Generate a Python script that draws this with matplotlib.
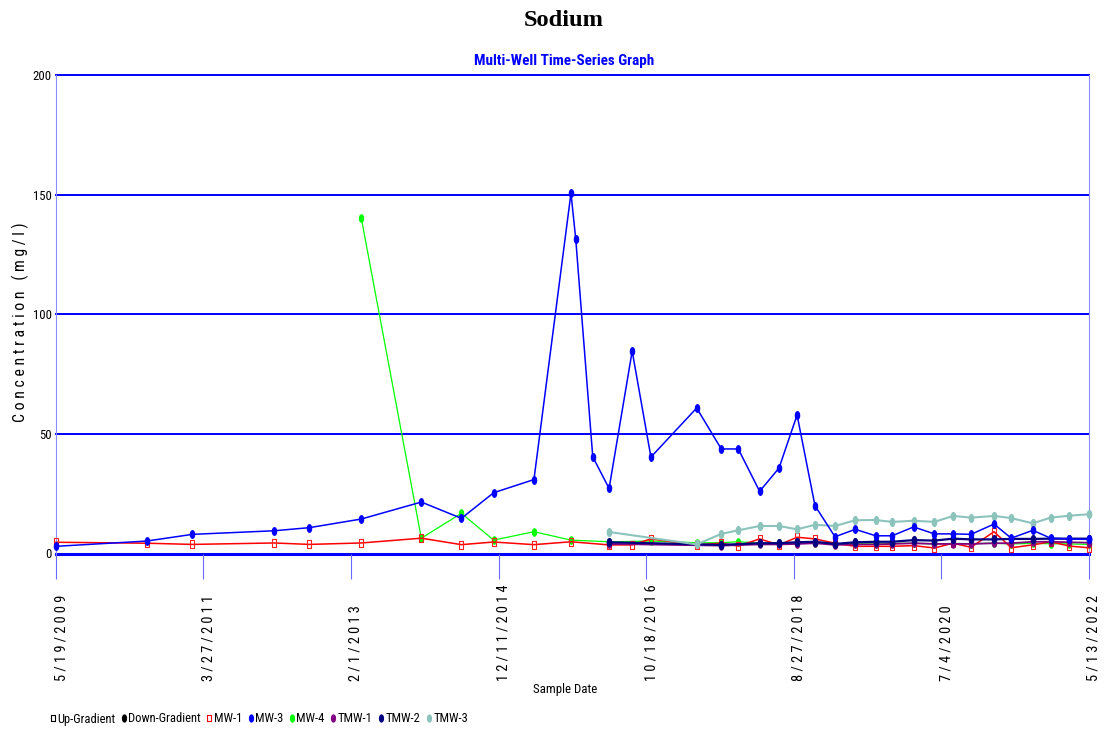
import os
import matplotlib
matplotlib.use("Agg")
import numpy as np
import matplotlib.pyplot as plt
import matplotlib.dates as mdates
from matplotlib import font_manager as fm
from matplotlib.path import Path
from matplotlib.lines import Line2D
from matplotlib.transforms import blended_transform_factory, ScaledTranslation

# ---- data -------------------------------------------------------------
tick_labels = ["5/19/2009", "3/27/2011", "2/1/2013", "12/11/2014",
               "10/18/2016", "8/27/2018", "7/4/2020", "5/13/2022"]

mw3_dates = ["2009-05-19", "2010-07-09", "2011-02-04", "2012-02-14", "2012-07-25",
             "2013-03-20", "2013-12-21", "2014-06-23", "2014-11-18", "2015-05-22",
             "2015-11-08", "2015-11-30", "2016-02-16", "2016-05-01", "2016-08-15",
             "2016-11-09", "2017-06-07", "2017-09-28", "2017-12-15", "2018-03-23",
             "2018-06-20", "2018-09-11", "2018-12-02", "2019-03-04", "2019-06-05",
             "2019-09-07", "2019-11-21", "2020-02-28", "2020-06-02", "2020-08-27",
             "2020-11-17", "2021-03-03", "2021-05-21", "2021-08-28", "2021-11-18",
             "2022-02-12", "2022-05-13"]
mw3_values = [3.0, 5.2, 8.0, 9.5, 10.8, 14.4, 21.5, 14.7, 25.4, 30.9,
              150.6, 131.3, 40.4, 27.2, 84.6, 40.3, 60.8, 43.7, 43.7, 26.0,
              35.7, 57.9, 20.0, 7.0, 10.1, 7.4, 7.4, 11.1, 8.2, 8.2,
              8.0, 12.3, 6.4, 9.7, 6.4, 6.1, 5.9]

mw1_dates = ["2009-05-19", "2010-07-09", "2011-02-04", "2012-02-14", "2012-07-25",
             "2013-03-20", "2013-12-21", "2014-06-23", "2014-11-18", "2015-05-22",
             "2015-11-08", "2016-05-01", "2016-08-15", "2016-11-09", "2017-06-07",
             "2017-09-28", "2017-12-15", "2018-03-23", "2018-06-20", "2018-09-11",
             "2018-12-02", "2019-03-04", "2019-06-05", "2019-09-07", "2019-11-21",
             "2020-02-28", "2020-06-02", "2020-08-27", "2020-11-17", "2021-03-03",
             "2021-05-21", "2021-08-28", "2021-11-18", "2022-02-12", "2022-05-13"]
mw1_values = [4.7, 4.3, 3.8, 4.4, 3.8, 4.4, 6.4, 3.7, 4.8, 3.7,
              4.9, 3.6, 3.6, 6.1, 3.6, 4.3, 3.1, 6.1, 3.6, 6.8,
              6.1, 4.3, 3.0, 3.0, 3.0, 3.3, 2.3, 4.3, 2.6, 9.1,
              2.4, 3.6, 4.9, 3.1, 2.4]

mw4_dates = ["2013-03-20", "2013-12-21", "2014-06-23", "2014-11-18", "2015-05-22",
             "2015-11-08", "2016-05-01", "2016-11-09", "2017-06-07", "2017-09-28",
             "2017-12-15", "2018-03-23", "2018-06-20", "2018-09-11", "2018-12-02",
             "2019-03-04", "2019-06-05", "2019-09-07", "2019-11-21", "2020-02-28",
             "2020-06-02", "2020-08-27", "2020-11-17", "2021-03-03", "2021-05-21",
             "2021-08-28", "2021-11-18", "2022-02-12", "2022-05-13"]
mw4_values = [140.4, 6.4, 16.8, 5.6, 9.1, 5.6, 4.9, 5.2, 4.5, 4.5,
              4.9, 4.4, 4.3, 4.6, 4.5, 4.0, 4.1, 4.0, 4.2, 4.3,
              4.0, 4.2, 4.1, 4.3, 4.0, 4.2, 4.1, 4.0, 3.8]

tmw_dates = ["2016-05-01", "2017-09-28", "2018-03-23", "2018-06-20", "2018-09-11",
             "2018-12-02", "2019-03-04", "2019-06-05", "2019-09-07", "2019-11-21",
             "2020-02-28", "2020-06-02", "2020-08-27", "2020-11-17", "2021-03-03",
             "2021-05-21", "2021-08-28", "2021-11-18", "2022-02-12", "2022-05-13"]
tmw1_values = [4.0, 3.3, 3.8, 3.8, 4.0, 4.3, 3.6, 3.8, 3.8, 4.0,
               4.3, 4.0, 4.0, 4.0, 4.3, 4.3, 4.9, 4.9, 4.7, 4.5]
tmw2_values = [4.7, 3.6, 4.3, 4.3, 4.7, 4.9, 4.0, 4.7, 4.9, 4.9,
               5.6, 5.4, 6.2, 5.9, 5.9, 6.1, 6.1, 6.2, 6.2, 6.2]

tmw3_dates = ["2016-05-01", "2017-06-07", "2017-09-28", "2017-12-15", "2018-03-23",
              "2018-06-20", "2018-09-11", "2018-12-02", "2019-03-04", "2019-06-05",
              "2019-09-07", "2019-11-21", "2020-02-28", "2020-06-02", "2020-08-27",
              "2020-11-17", "2021-03-03", "2021-05-21", "2021-08-28", "2021-11-18",
              "2022-02-12", "2022-05-13"]
tmw3_values = [9.0, 3.8, 8.2, 9.7, 11.5, 11.5, 10.1, 12.0, 11.5, 13.9,
               14.0, 13.2, 13.7, 13.2, 15.7, 15.0, 15.7, 14.8, 12.6, 15.0,
               15.8, 16.4]

y_ticks = [0, 50, 100, 150, 200]
legend_labels = ["Up-Gradient", "Down-Gradient", "MW-1", "MW-3", "MW-4",
                 "TMW-1", "TMW-2", "TMW-3"]


# ---- fonts: prefer a narrow face when one is installed -----------------
def find_face(prefixes, bold=False):
    files = sorted({f.fname for f in fm.fontManager.ttflist})
    for p in prefixes:
        for fn in files:
            b = os.path.basename(fn).lower()
            if not b.startswith(p.lower()):
                continue
            rest = b[len(p):]
            if "italic" in rest or "oblique" in rest:
                continue
            heavy = any(k in rest for k in ("semibold", "extrabold", "demibold", "black"))
            if bold:
                if "bold" in rest and not heavy:
                    return fn
            elif not any(k in rest for k in ("bold", "light", "thin", "black", "medium")):
                return fn
    return None


SANS_NARROW = ["NotoSans-ExtraCondensed", "LiberationSansNarrow", "ArialNarrow",
               "NotoSans-Condensed", "RobotoCondensed", "Roboto-Condensed",
               "OpenSans-Condensed", "OpenSansCondensed", "OpenSans_Condensed",
               "DejaVuSansCondensed"]
SERIF_NARROW = ["NotoSerif-ExtraCondensed", "NotoSerif-Condensed", "LiberationSerif-",
                "DejaVuSerifCondensed", "DejaVuSerif"]


def sans(size=10, bold=False):
    fn = find_face(SANS_NARROW, bold)
    if fn:
        return fm.FontProperties(fname=fn, size=size)
    return fm.FontProperties(family="DejaVu Sans", size=size,
                             weight="bold" if bold else "normal")


def serif(size=10):
    fn = find_face(SERIF_NARROW, True)
    if fn:
        return fm.FontProperties(fname=fn, size=size)
    return fm.FontProperties(family="serif", size=size, weight="bold")


# ---- helpers ------------------------------------------------------------
def to_num(dates):
    return mdates.date2num(np.array(dates, dtype="datetime64[D]"))


def label_to_iso(lab):
    m, d, y = lab.split("/")
    return f"{y}-{int(m):02d}-{int(d):02d}"


def spaced(s):
    return " ".join(s)


def oval(aspect=0.55):
    c = Path.unit_circle()
    return Path(c.vertices * np.array([aspect, 1.0]), c.codes)


def tall_box(aspect=0.5):
    verts = [(-aspect, -1), (aspect, -1), (aspect, 1), (-aspect, 1), (-aspect, -1)]
    codes = [Path.MOVETO, Path.LINETO, Path.LINETO, Path.LINETO, Path.CLOSEPOLY]
    return Path(verts, codes)


OVAL = oval()
BOX = tall_box()

W, H = 1112, 732


def fx(px):
    return px / W


def fy(py):
    return 1 - py / H


fig = plt.figure(figsize=(W / 100, H / 100), dpi=100)
fig.patch.set_facecolor("white")
renderer = fig.canvas.get_renderer()


def size_for(text, fp, width_px):
    """Font size (pt) at which `text` set in `fp` is `width_px` wide."""
    probe = fp.copy()
    probe.set_size(20)
    t = fig.text(0, 0, text, fontproperties=probe)
    w = t.get_window_extent(renderer).width
    t.remove()
    return 20 * width_px / w


def fp_fit(base, text, width_px):
    fp = base.copy()
    fp.set_size(size_for(text, fp, width_px))
    return fp


ax = fig.add_axes([fx(56), fy(553.5), fx(1089) - fx(56), fy(75) - fy(553.5)])

tick_nums = to_num([label_to_iso(l) for l in tick_labels])
ax.set_xlim(tick_nums[0], tick_nums[-1])
ax.set_ylim(0, 200)

# horizontal grid and base line
for v in y_ticks[1:]:
    ax.axhline(v, color="#0000ff", lw=1.4, zorder=1, clip_on=False)
ax.axhline(0, color="#0000ff", lw=2.2, zorder=1.5, clip_on=False)

for side in ("top", "bottom"):
    ax.spines[side].set_visible(False)
for side in ("left", "right"):
    ax.spines[side].set_color("#8c8cff")
    ax.spines[side].set_linewidth(0.8)

# series
series = [
    ("MW-4", mw4_dates, mw4_values, dict(color="#00ff00", lw=0.9, marker=OVAL, ms=5.2,
                                         mfc="#00ff00", mec="#00ff00")),
    ("MW-1", mw1_dates, mw1_values, dict(color="#ff0000", lw=1.1, marker=BOX, ms=6.4,
                                         mfc="none", mec="#ff2020", mew=0.8)),
    ("TMW-1", tmw_dates, tmw1_values, dict(color="#800080", lw=1.3, marker=OVAL, ms=5.2,
                                            mfc="#800080", mec="#800080")),
    ("TMW-2", tmw_dates, tmw2_values, dict(color="#000080", lw=1.6, marker=OVAL, ms=5.6,
                                            mfc="#000080", mec="#000080")),
    ("TMW-3", tmw3_dates, tmw3_values, dict(color="#8cc4bc", lw=1.5, marker=OVAL, ms=5.6,
                                            mfc="#8cc4bc", mec="#8cc4bc")),
    ("MW-3", mw3_dates, mw3_values, dict(color="#0000ff", lw=1.1, marker=OVAL, ms=5.4,
                                         mfc="#0000ff", mec="#0000ff")),
]
for z, (name, d, v, st) in enumerate(series):
    ax.plot(to_num(d), v, zorder=3 + z, clip_on=False, **st)

base = sans()

# y axis
ax.set_yticks(y_ticks)
ax.set_yticklabels([str(t) for t in y_ticks])
ax.tick_params(axis="y", length=0, pad=3)
ytick_fp = fp_fit(base, "200", 19)
for lbl in ax.get_yticklabels():
    lbl.set_fontproperties(ytick_fp)

# x axis: ticks below the base line, spaced-out vertical date labels
ax.set_xticks(tick_nums)
ax.set_xticklabels([])
ax.tick_params(axis="x", direction="out", length=18, width=0.8, color="#6a6aff")
xtick_fp = fp_fit(base, spaced("5/19/2009"), 87)
lab_tr = blended_transform_factory(ax.transData, fig.transFigure) + \
    ScaledTranslation(5 / 100, 0, fig.dpi_scale_trans)
for t, lab in zip(tick_nums, tick_labels):
    ax.text(t, fy(681), spaced(lab), transform=lab_tr, rotation=90,
            ha="center", va="bottom", fontproperties=xtick_fp, clip_on=False)

fig.text(fx(565), fy(690), "Sample Date", ha="center", va="center",
         fontproperties=fp_fit(base, "Sample Date", 64))
ylab = spaced("Concentration") + "   " + spaced("(mg/l)")
fig.text(fx(20), fy(322), ylab, rotation=90, ha="center", va="center",
         fontproperties=fp_fit(base, ylab, 198))

# titles
fig.text(fx(564), fy(21), "Sodium", ha="center", va="center",
         fontproperties=fp_fit(serif(), "Sodium", 80))
sub = "Multi-Well Time-Series Graph"
fig.text(fx(564), fy(61), sub, ha="center", va="center",
         fontproperties=fp_fit(sans(bold=True), sub, 180), color="#0000ff")

# legend
handles = [
    Line2D([], [], ls="None", marker=BOX, ms=5, mfc="none", mec="black", mew=0.8),
    Line2D([], [], ls="None", marker=OVAL, ms=5, mfc="black", mec="black"),
    Line2D([], [], ls="None", marker=BOX, ms=5, mfc="none", mec="#ff0000", mew=0.8),
    Line2D([], [], ls="None", marker=OVAL, ms=5, mfc="#0000ff", mec="#0000ff"),
    Line2D([], [], ls="None", marker=OVAL, ms=5, mfc="#00ff00", mec="#00ff00"),
    Line2D([], [], ls="None", marker=OVAL, ms=5, mfc="#800080", mec="#800080"),
    Line2D([], [], ls="None", marker=OVAL, ms=5, mfc="#000080", mec="#000080"),
    Line2D([], [], ls="None", marker=OVAL, ms=5, mfc="#8cc4bc", mec="#8cc4bc"),
]
leg_fp = fp_fit(base, "Up-Gradient", 58)
em_px = leg_fp.get_size_in_points() * 100 / 72
fig.legend(handles, legend_labels, loc="center left", bbox_to_anchor=(fx(50), fy(719)),
           ncol=8, frameon=False, handlelength=5 / em_px, handletextpad=2 / em_px,
           columnspacing=6 / em_px, borderaxespad=0, borderpad=0, prop=leg_fp)

fig.savefig("out.png", dpi=100, facecolor="white")
